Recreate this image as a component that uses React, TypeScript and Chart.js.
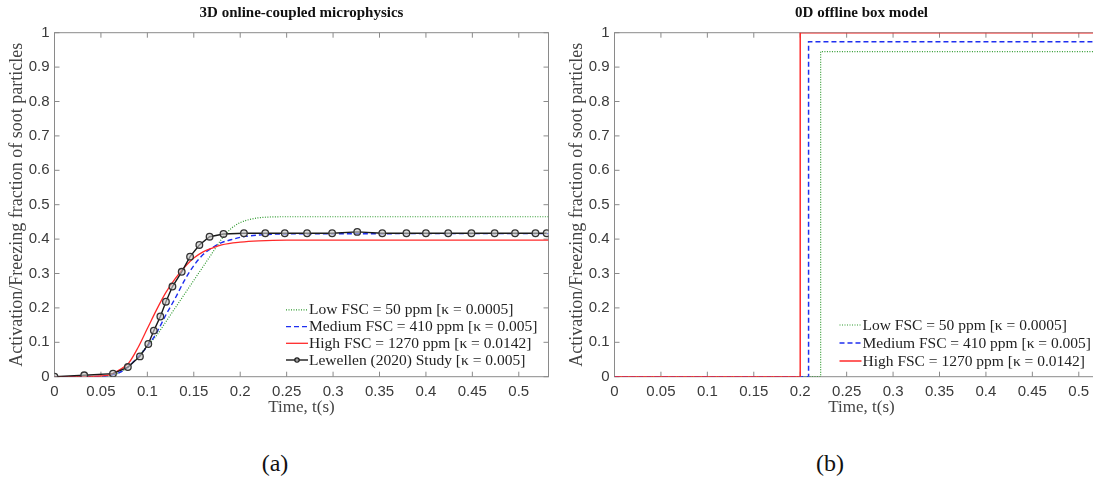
import React, { useEffect, useRef } from "react";
import { Chart, registerables } from "chart.js";

Chart.register(...registerables);

// ---------- shared axis data ----------
const X_MAX = 0.532;
const X_TICKS = [0, 0.05, 0.1, 0.15, 0.2, 0.25, 0.3, 0.35, 0.4, 0.45, 0.5];
const Y_TICKS = [0, 0.1, 0.2, 0.3, 0.4, 0.5, 0.6, 0.7, 0.8, 0.9, 1];

const TITLE_3D = "3D online-coupled microphysics";
const TITLE_0D = "0D offline box model";
const X_TITLE = "Time, t(s)";
const Y_TITLE = "Activation/Freezing fraction of soot particles";

const LABEL_LOW = "Low FSC = 50 ppm [κ = 0.0005]";
const LABEL_MED = "Medium FSC = 410 ppm [κ = 0.005]";
const LABEL_HIGH = "High FSC = 1270 ppm [κ = 0.0142]";
const LABEL_LEW = "Lewellen (2020) Study [κ = 0.005]";

// ---------- (a) 3D online-coupled microphysics ----------
const lowT3D = [0, 0.04, 0.06, 0.07, 0.08, 0.09, 0.1, 0.11, 0.12, 0.13, 0.14, 0.15, 0.16, 0.17, 0.18, 0.19, 0.2, 0.21, 0.22, 0.23, 0.25, 0.532];
const lowY3D = [0, 0, 0.004, 0.012, 0.03, 0.058, 0.09, 0.12, 0.16, 0.2, 0.24, 0.28, 0.32, 0.36, 0.4, 0.43, 0.448, 0.457, 0.462, 0.464, 0.465, 0.465];

const medT3D = [0, 0.04, 0.06, 0.07, 0.08, 0.09, 0.1, 0.11, 0.12, 0.13, 0.14, 0.15, 0.16, 0.17, 0.18, 0.19, 0.2, 0.22, 0.25, 0.532];
const medY3D = [0, 0, 0.004, 0.012, 0.03, 0.058, 0.088, 0.128, 0.18, 0.228, 0.28, 0.323, 0.355, 0.375, 0.39, 0.398, 0.405, 0.412, 0.415, 0.416];

const highT3D = [0, 0.03, 0.05, 0.06, 0.07, 0.08, 0.09, 0.1, 0.11, 0.12, 0.13, 0.14, 0.15, 0.16, 0.17, 0.18, 0.2, 0.22, 0.25, 0.3, 0.532];
const highY3D = [0, 0, 0.002, 0.006, 0.02, 0.04, 0.085, 0.14, 0.195, 0.245, 0.285, 0.318, 0.345, 0.363, 0.374, 0.383, 0.391, 0.395, 0.397, 0.397, 0.397];

const lewT3D = [0, 0.032, 0.063, 0.079, 0.092, 0.101, 0.107, 0.114, 0.12, 0.127, 0.137, 0.146, 0.156, 0.167, 0.182, 0.204, 0.227, 0.248, 0.272, 0.299, 0.326, 0.353, 0.379, 0.4, 0.424, 0.449, 0.474, 0.496, 0.518, 0.53];
const lewY3D = [0, 0.004, 0.009, 0.028, 0.059, 0.095, 0.134, 0.175, 0.218, 0.262, 0.305, 0.349, 0.383, 0.407, 0.415, 0.417, 0.417, 0.417, 0.417, 0.417, 0.421, 0.417, 0.417, 0.417, 0.417, 0.417, 0.417, 0.417, 0.417, 0.417];

// ---------- (b) 0D offline box model ----------
const lowT0D = [0, 0.222, 0.222, 0.532];
const lowY0D = [0, 0, 0.945, 0.945];
const medT0D = [0, 0.209, 0.209, 0.532];
const medY0D = [0, 0, 0.974, 0.974];
const highT0D = [0, 0.2, 0.2, 0.532];
const highY0D = [0, 0, 1, 1];

// ---------- styles ----------
const GREEN = "#2f9a2f";
const BLUE = "#1f2ff0";
const RED = "#ff2a2a";
const BLACK = "#1a1a1a";
const AXIS = "#8a8a8a";
const TEXT = "#3a3a3a";
const SERIF = "'Liberation Serif', 'DejaVu Serif', serif";
const SANS = "'Liberation Sans', Arial, sans-serif";

const zip = (t: number[], y: number[]) => t.map((v, i) => ({ x: v, y: y[i] }));

const fmt = (v: number) => String(parseFloat(Number(v).toFixed(2)));

const framePlugin = {
  id: "frame",
  beforeDatasetsDraw(chart: any) {
    const { ctx, chartArea: a, scales } = chart;
    const xs = scales.x;
    const ys = scales.y;
    ctx.save();
    ctx.strokeStyle = AXIS;
    ctx.lineWidth = 1;
    ctx.strokeRect(a.left, a.top, a.right - a.left, a.bottom - a.top);
    const L = 5;
    ctx.beginPath();
    X_TICKS.forEach((v) => {
      const px = xs.getPixelForValue(v);
      ctx.moveTo(px, a.bottom);
      ctx.lineTo(px, a.bottom - L);
      ctx.moveTo(px, a.top);
      ctx.lineTo(px, a.top + L);
    });
    Y_TICKS.forEach((v) => {
      const py = ys.getPixelForValue(v);
      ctx.moveTo(a.left, py);
      ctx.lineTo(a.left + L, py);
      ctx.moveTo(a.right, py);
      ctx.lineTo(a.right - L, py);
    });
    ctx.stroke();
    ctx.restore();
  },
  afterDatasetsDraw(chart: any, _args: any, opts: any) {
    const { ctx, chartArea: a } = chart;
    const labels: string[] = opts.labels || [];
    const dsets = chart.data.datasets;
    ctx.save();
    ctx.font = opts.font;
    ctx.textBaseline = "middle";
    ctx.textAlign = "left";
    const n = labels.length;
    const textX = a.left + opts.textLeft;
    labels.forEach((lab: string, i: number) => {
      const ds = dsets.find((d: any) => d.label === lab);
      const yy = a.bottom - opts.bottom - (n - 1 - i) * opts.spacing;
      const x1 = textX - 1;
      const x0 = x1 - 22;
      ctx.strokeStyle = ds.borderColor;
      ctx.lineWidth = ds.borderWidth;
      ctx.setLineDash(ds.borderDash || []);
      ctx.beginPath();
      ctx.moveTo(x0, yy);
      ctx.lineTo(x1, yy);
      ctx.stroke();
      ctx.setLineDash([]);
      if (ds.pointRadius > 0) {
        ctx.beginPath();
        ctx.arc((x0 + x1) / 2, yy, 2.2, 0, Math.PI * 2);
        ctx.fillStyle = ds.pointBackgroundColor;
        ctx.fill();
        ctx.lineWidth = 1.2;
        ctx.strokeStyle = ds.borderColor;
        ctx.stroke();
      }
      ctx.fillStyle = "#222";
      ctx.fillText(lab, textX, yy + 0.5);
    });
    ctx.restore();
  },
};

function makeOptions(title: string, legend: any) {
  return {
    responsive: false,
    animation: false as const,
    layout: { padding: { left: 0, right: 11.5, top: 0, bottom: 0 } },
    plugins: {
      legend: { display: false },
      tooltip: { enabled: false },
      title: {
        display: true,
        text: title,
        fullSize: false,
        color: "#111",
        font: { family: SERIF, size: 15, weight: "bold" as const },
        padding: { top: 4, bottom: 10.7 },
      },
      frame: legend,
    },
    scales: {
      x: {
        type: "linear" as const,
        min: 0,
        max: X_MAX,
        afterFit: (s: any) => {
          s.height = 425 - 376.7;
        },
        afterBuildTicks: (s: any) => {
          s.ticks = X_TICKS.map((v) => ({ value: v }));
        },
        grid: { display: false, drawTicks: false },
        border: { display: false },
        ticks: {
          color: TEXT,
          font: { family: SANS, size: 15 },
          padding: 6,
          maxRotation: 0,
          autoSkip: false,
          callback: (v: any) => fmt(v),
        },
        title: {
          display: true,
          text: X_TITLE,
          color: "#444",
          font: { family: SERIF, size: 17 },
          padding: { top: 0, bottom: 7 },
        },
      },
      y: {
        type: "linear" as const,
        min: 0,
        max: 1,
        afterFit: (s: any) => {
          s.width = 54.5;
        },
        afterBuildTicks: (s: any) => {
          s.ticks = Y_TICKS.map((v) => ({ value: v }));
        },
        grid: { display: false, drawTicks: false },
        border: { display: false },
        ticks: {
          color: TEXT,
          font: { family: SANS, size: 15 },
          padding: 5,
          autoSkip: false,
          callback: (v: any) => fmt(v),
        },
        title: {
          display: true,
          text: Y_TITLE,
          color: "#444",
          font: { family: SERIF, size: 18 },
          padding: { top: 6, bottom: 0 },
        },
      },
    },
  };
}

function ChartA() {
  const ref = useRef<HTMLCanvasElement>(null);
  useEffect(() => {
    const chart = new Chart(ref.current as HTMLCanvasElement, {
      type: "line",
      data: {
        datasets: [
          {
            label: LABEL_LEW,
            data: zip(lewT3D, lewY3D),
            borderColor: BLACK,
            borderWidth: 1.4,
            pointRadius: 3.3,
            pointBorderWidth: 1.3,
            pointBackgroundColor: "rgba(200,200,200,0.6)",
            pointBorderColor: "#333",
            order: 0,
          },
          {
            label: LABEL_HIGH,
            data: zip(highT3D, highY3D),
            borderColor: RED,
            borderWidth: 1.3,
            pointRadius: 0,
            cubicInterpolationMode: "monotone",
            order: 1,
          },
          {
            label: LABEL_MED,
            data: zip(medT3D, medY3D),
            borderColor: BLUE,
            borderWidth: 1.4,
            borderDash: [5, 3],
            pointRadius: 0,
            cubicInterpolationMode: "monotone",
            order: 2,
          },
          {
            label: LABEL_LOW,
            data: zip(lowT3D, lowY3D),
            borderColor: GREEN,
            borderWidth: 1.2,
            borderDash: [1, 1.5],
            pointRadius: 0,
            cubicInterpolationMode: "monotone",
            order: 3,
          },
        ] as any,
      },
      options: makeOptions(TITLE_3D, {
        labels: [LABEL_LOW, LABEL_MED, LABEL_HIGH, LABEL_LEW],
        font: `15.5px ${SERIF}`,
        textLeft: 254.5,
        bottom: 16.7,
        spacing: 16.7,
      }) as any,
      plugins: [framePlugin],
    });
    return () => chart.destroy();
  }, []);
  return <canvas ref={ref} width={560} height={425} style={{ width: 560, height: 425, display: "block" }} />;
}

function ChartB() {
  const ref = useRef<HTMLCanvasElement>(null);
  useEffect(() => {
    const chart = new Chart(ref.current as HTMLCanvasElement, {
      type: "line",
      data: {
        datasets: [
          {
            label: LABEL_HIGH,
            data: zip(highT0D, highY0D),
            borderColor: RED,
            borderWidth: 1.5,
            pointRadius: 0,
            order: 0,
          },
          {
            label: LABEL_MED,
            data: zip(medT0D, medY0D),
            borderColor: BLUE,
            borderWidth: 1.5,
            borderDash: [5, 3],
            pointRadius: 0,
            order: 1,
          },
          {
            label: LABEL_LOW,
            data: zip(lowT0D, lowY0D),
            borderColor: GREEN,
            borderWidth: 1.2,
            borderDash: [1, 1.5],
            pointRadius: 0,
            order: 2,
          },
        ] as any,
      },
      options: makeOptions(TITLE_0D, {
        labels: [LABEL_LOW, LABEL_MED, LABEL_HIGH],
        font: `15.5px ${SERIF}`,
        textLeft: 248,
        bottom: 15.7,
        spacing: 18,
      }) as any,
      plugins: [framePlugin],
    });
    return () => chart.destroy();
  }, []);
  return <canvas ref={ref} width={560} height={425} style={{ width: 560, height: 425, display: "block" }} />;
}

const capStyle: React.CSSProperties = {
  position: "absolute",
  top: 449,
  width: 60,
  textAlign: "center",
  fontFamily: SERIF,
  fontSize: 24,
  lineHeight: "28px",
  color: "#111",
};

export default function App() {
  return (
    <div
      style={{
        position: "fixed",
        left: 0,
        top: 0,
        width: 1093,
        height: 478,
        overflow: "hidden",
        background: "#fff",
      }}
    >
      <div style={{ position: "absolute", left: 0, top: 0 }}>
        <ChartA />
      </div>
      <div style={{ position: "absolute", left: 559.5, top: 0 }}>
        <ChartB />
      </div>
      <div style={{ ...capStyle, left: 275 - 30 }}>(a)</div>
      <div style={{ ...capStyle, left: 830 - 30 }}>(b)</div>
    </div>
  );
}
